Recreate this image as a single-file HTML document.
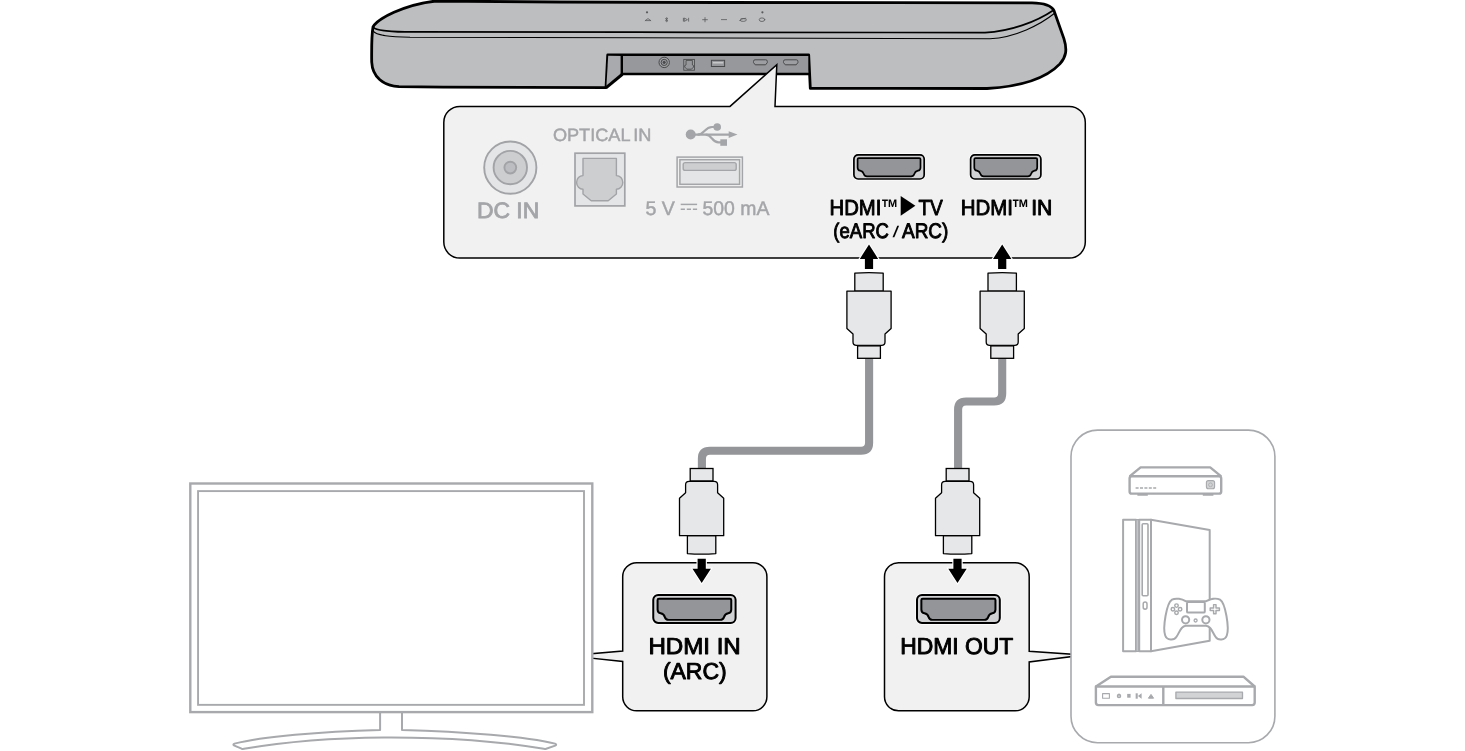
<!DOCTYPE html>
<html lang="en">
<head>
<meta charset="utf-8">
<title>HDMI connection diagram</title>
<style>
html,body{margin:0;padding:0;background:#fff;}
body{width:1465px;height:751px;overflow:hidden;position:relative;font-family:"Liberation Sans",sans-serif;}
svg{position:absolute;left:0;top:0;display:block;will-change:transform;}
text{font-family:"Liberation Sans",sans-serif;text-rendering:geometricPrecision;}
.lb{font-weight:normal;fill:#000;stroke:#000;stroke-width:0.95px;stroke-linejoin:round;}
.nb{font-weight:bold;fill:#000;}
.gy{fill:#a4a5a8;stroke:#a4a5a8;stroke-width:0.45px;}
</style>
</head>
<body>
<svg width="1465" height="751" viewBox="0 0 1465 751">
<defs>
  <!-- HDMI port, 70.3 x 24.2 (stroke centre box) -->
  <g id="hdmi">
    <rect x="0" y="0" width="70.3" height="24.2" rx="4.2" ry="4.2" fill="none" stroke="#fff" stroke-width="3"/>
    <rect x="0" y="0" width="70.3" height="24.2" rx="4.2" ry="4.2" fill="#d0d1d3" stroke="#000" stroke-width="1.7"/>
    <path d="M4.9,3.3 H65.4 Q66.6,3.3 66.6,4.5 V12.6 Q66.6,15.4 64,15.9 Q61.2,16.5 60.4,19.2 Q59.7,21.6 57.2,21.6 H13.1 Q10.6,21.6 9.9,19.2 Q9.1,16.5 6.3,15.9 Q3.7,15.4 3.7,12.6 V4.5 Q3.7,3.3 4.9,3.3 Z" fill="#939598" stroke="#000" stroke-width="1.7" stroke-linejoin="round"/>
  </g>
  <!-- HDMI plug pointing up, centred on x=0, top at y=0, height 85.7 -->
  <g id="plug">
    <path d="M-14.2,0.6 Q0,-0.6 14.2,0.6 V18.5 H-14.2 Z" fill="#e6e7e8" stroke="#000" stroke-width="1.3" stroke-linejoin="round"/>
    <path d="M-22.1,18.5 H22.1 V55.9 L16,61.5 V69.5 Q16,72.8 12.5,72.8 H-12.5 Q-16,72.8 -16,69.5 V61.5 L-22.1,55.9 Z" fill="#e6e7e8" stroke="#000" stroke-width="1.3" stroke-linejoin="round"/>
    <rect x="-11.4" y="73.3" width="22.8" height="12.4" fill="#e6e7e8" stroke="#000" stroke-width="1.3"/>
  </g>
  <!-- arrow pointing up, tip at 0,0 -->
  <g id="arrow">
    <path d="M0,0 L9.2,14.3 H4.1 V24.3 H-4.1 V14.3 H-9.2 Z" fill="#000" stroke="#fff" stroke-width="2.2" stroke-linejoin="miter" paint-order="stroke"/>
  </g>
</defs>

<!-- ========== SOUND BAR ========== -->
<g id="soundbar">
  <path d="M436,1 L560,2 L720,2.5 L1032,2.8 C1046,3 1051.5,5.6 1054,10.6 L1063.9,38.6 C1067.5,50 1066,57 1059.9,63.9 C1047,77.5 1022,86.5 987,88.5 L810.3,88.4 L808.7,55 L607.7,55 L606,87.7 L443,87.1 L399,86.7 C383,85.5 372.4,77 371.7,62 C371.5,45 371.6,35 373,27 C377,19 404,4.5 436,1 Z" fill="#bdbec0" stroke="#000" stroke-width="2.8" stroke-linejoin="round"/>
  <!-- top surface edge -->
  <path d="M373.3,27.2 C376,30.6 388,31.6 405,31.9 L700,32.3 L985,32.6 C1010,31.5 1036,22 1053.4,10.2" fill="none" stroke="#000" stroke-width="1.7"/>
  <path d="M373.2,31.2 C377,35.8 390,36.8 410,37.3 L720,38 L990,38.7 C1015,37.5 1040,25 1054.9,13" fill="none" stroke="#000" stroke-width="1.1"/>
  <!-- notch -->
  <path d="M608.2,55.8 L622,56 L622,73.6 L606.4,86.6 Z" fill="#a9aaad"/>
  <rect x="622" y="56" width="186.3" height="18" fill="#97989b"/>
  <path d="M621.8,55 V74 M621,74 H809.6" fill="none" stroke="#000" stroke-width="2.4"/>
  <path d="M622.4,74.2 L606.2,87.6" fill="none" stroke="#000" stroke-width="3.1"/>
  <!-- ports on the bar -->
  <g fill="none" stroke="#48494b" stroke-width="1">
    <circle cx="664.2" cy="62.4" r="5.2" fill="#a0a1a4"/>
    <circle cx="664.2" cy="62.4" r="3.1" fill="#97989b"/>
    <circle cx="664.2" cy="62.4" r="1.1" fill="#48494b"/>
    <rect x="683.8" y="59.4" width="10.6" height="10.8" fill="#a3a4a7" stroke-width="0.9"/>
    <path d="M686,60.4 H692.4 V65 L693.6,65.6 V67 L691.5,69.2 H686.8 L684.7,67 V65.6 L686,65 Z" fill="#97989b" stroke-width="0.9"/>
    <rect x="711.4" y="60.3" width="13.2" height="6.2" fill="#97989b"/>
    <path d="M712.8,62.8 H723.2" stroke="#d1d3d4" stroke-width="1.2"/>
    <path d="M755.1,59.8 H765.7 Q767.3,59.8 767.3,61.4 V62.6 L765.6,64.8 H755.2 L753.5,62.6 V61.4 Q753.5,59.8 755.1,59.8 Z" fill="#9d9ea1"/>
    <path d="M785.1,59.8 H796.3 Q797.9,59.8 797.9,61.4 V62.6 L796.2,64.8 H785.2 L783.5,62.6 V61.4 Q783.5,59.8 785.1,59.8 Z" fill="#9d9ea1"/>
  </g>
  <!-- top buttons -->
  <g fill="none" stroke="#58595b" stroke-width="0.8" stroke-linecap="round">
    <circle cx="647" cy="12.3" r="1.1" fill="#58595b" stroke="none"/>
    <circle cx="762.4" cy="12.3" r="1.1" fill="#58595b" stroke="none"/>
    <path d="M645.2,20.6 L648,18.6 L650.8,20.6 M645.6,20.6 H650.4"/>
    <path d="M665.4,18.6 L667.8,20.8 L666.6,21.8 V17.6 L667.8,18.6 L665.4,20.8"/>
    <path d="M683.4,18.2 V21.2 M688.6,18.2 V21.2 M684.6,18.2 L687.4,19.7 L684.6,21.2 Z"/>
    <path d="M702.6,19.7 H707.4 M705,17.6 V21.8"/>
    <path d="M721.4,19.6 H726.6"/>
    <path d="M740,20.4 Q740,18.6 743.2,18.6 Q746.4,18.6 746.4,19.8 Q746.4,21.4 743.2,21.4 Q740,21.4 740,20.4 Z M741,18.9 L745.8,18.3"/>
    <ellipse cx="762" cy="19.7" rx="2.8" ry="1.8"/>
  </g>
</g>

<!-- ========== CALLOUT PANEL ========== -->
<g id="callout">
  <path d="M459.8,106.4 H730 L776.8,64.8 L775,106.4 H1069.3 A16,16 0 0 1 1085.3,122.4 V242.1 A16,16 0 0 1 1069.3,258.1 H459.8 A16,16 0 0 1 443.8,242.1 V122.4 A16,16 0 0 1 459.8,106.4 Z" fill="#f1f1f1" stroke="#000" stroke-width="1.5" stroke-linejoin="miter"/>
  <!-- DC IN -->
  <g stroke="#a2a3a6" stroke-width="1.9">
    <circle cx="510.3" cy="167.6" r="26.1" fill="#e4e5e6"/>
    <circle cx="510.3" cy="167.6" r="16.7" fill="#cdced0"/>
    <circle cx="510.3" cy="167.6" r="5.9" fill="#bcbdc0"/>
  </g>
  <text class="gy" style="stroke-width:0.8px" x="476.9" y="218.2" font-size="22.2" textLength="62.4" lengthAdjust="spacingAndGlyphs">DC IN</text>
  <!-- OPTICAL IN -->
  <text class="gy" x="552.9" y="141" font-size="17.8" textLength="77.6" lengthAdjust="spacingAndGlyphs">OPTICAL</text>
  <text class="gy" x="633.2" y="141" font-size="17.8" textLength="18.2" lengthAdjust="spacingAndGlyphs">IN</text>
  <rect x="575" y="153.2" width="49.8" height="52.7" fill="#e4e5e6" stroke="#a2a3a6" stroke-width="1.7"/>
  <path d="M583,158.4 H616.4 V175.6 A6.4,6.8 0 0 1 616.4,189.2 V194 L608.2,200.8 H591.2 L583,194 V189.2 A6.4,6.8 0 0 1 583,175.6 Z" fill="#cdced0" stroke="#a2a3a6" stroke-width="1.4" stroke-linejoin="round"/>
  <!-- USB icon -->
  <g fill="#a4a5a8" stroke="none">
    <circle cx="690.7" cy="134.5" r="5"/>
    <circle cx="717.2" cy="127" r="3.8"/>
    <rect x="720.3" y="139.3" width="6.7" height="6.5"/>
    <path d="M728.7,131.3 L737.5,134.6 L728.7,138.1 Z"/>
  </g>
  <g fill="none" stroke="#a4a5a8" stroke-width="2.1">
    <path d="M690,134.6 H730"/>
    <path d="M697.6,134.6 C704.5,134.6 704.5,127 712,127 H716"/>
    <path d="M705.6,134.6 C712,134.6 712,142.4 718.5,142.4 H722"/>
  </g>
  <!-- USB port -->
  <rect x="677.1" y="157.1" width="65.3" height="29.9" fill="#f1f1f1" stroke="#a4a5a8" stroke-width="1.5"/>
  <rect x="679.9" y="159.7" width="59.7" height="24.6" fill="#e4e5e6" stroke="#a4a5a8" stroke-width="1.5"/>
  <rect x="683.2" y="162.6" width="53" height="7.8" rx="2" fill="#cdced0" stroke="#a4a5a8" stroke-width="1.4"/>
  <!-- 5 V === 500 mA -->
  <text class="gy" x="645.4" y="214.7" font-size="19.8" textLength="29.4" lengthAdjust="spacingAndGlyphs">5 V</text>
  <path d="M680.7,204.4 H697.1" stroke="#a4a5a8" stroke-width="1.5" fill="none"/>
  <path d="M680.7,209.2 H697.1" stroke="#a4a5a8" stroke-width="1.5" stroke-dasharray="4.2,1.9" fill="none"/>
  <text class="gy" x="702.5" y="214.7" font-size="19.8" textLength="66.9" lengthAdjust="spacingAndGlyphs">500 mA</text>
  <!-- HDMI ports -->
  <use href="#hdmi" x="853.9" y="154.8"/>
  <use href="#hdmi" x="970.6" y="154.8"/>
  <text class="lb" x="829.6" y="214.75" font-size="21.7" textLength="51.8" lengthAdjust="spacingAndGlyphs">HDMI</text>
  <text class="nb" x="880.9" y="215.7" font-size="24" textLength="17.6" lengthAdjust="spacingAndGlyphs">™</text>
  <text class="nb" transform="translate(901.1,212.2) scale(0.89,1.19)" x="0" y="0" font-size="20" font-family="DejaVu Sans, sans-serif">▶</text>
  <text class="lb" x="918.4" y="214.75" font-size="21.7" textLength="24.4" lengthAdjust="spacingAndGlyphs">TV</text>
  <text class="lb" x="833.3" y="237.6" font-size="21.15" textLength="55.6" lengthAdjust="spacingAndGlyphs">(eARC</text>
  <text x="892.6" y="236.6" font-size="15.5" fill="#000" textLength="6.6" lengthAdjust="spacingAndGlyphs">/</text>
  <text class="lb" x="902" y="237.6" font-size="21.15" textLength="46.4" lengthAdjust="spacingAndGlyphs">ARC)</text>
  <text class="lb" x="960.8" y="214.75" font-size="21.7" textLength="52.2" lengthAdjust="spacingAndGlyphs">HDMI</text>
  <text class="nb" x="1011.7" y="215.7" font-size="24" textLength="17.6" lengthAdjust="spacingAndGlyphs">™</text>
  <text class="lb" x="1031.2" y="214.75" font-size="21.7" textLength="21.2" lengthAdjust="spacingAndGlyphs">IN</text>
</g>

<!-- ========== CABLES ========== -->
<g fill="none" stroke="#939598" stroke-width="8.1" stroke-linejoin="round">
  <path d="M869.1,356 V442.8 Q869.1,450.8 861.1,450.8 H709.9 Q701.9,450.8 701.9,458.8 V470"/>
  <path d="M1002.2,356 V393.5 Q1002.2,401.5 994.2,401.5 H966.1 Q958.1,401.5 958.1,409.5 V470"/>
</g>

<!-- ========== BOTTOM BOXES ========== -->
<g id="boxes">
  <path d="M636.7,562.7 H752.9 A14,14 0 0 1 766.9,576.7 V696.8 A14,14 0 0 1 752.9,710.8 H636.7 A14,14 0 0 1 622.7,696.8 V661.5 L591.5,658.2 V653.7 L622.7,651.1 V576.7 A14,14 0 0 1 636.7,562.7 Z" fill="#f1f1f1" stroke="#000" stroke-width="1.5"/>
  <path d="M898.5,562.7 H1015.2 A14,14 0 0 1 1029.2,576.7 V651.2 L1072,654.2 V656.6 L1029.2,662 V696.8 A14,14 0 0 1 1015.2,710.8 H898.5 A14,14 0 0 1 884.5,696.8 V576.7 A14,14 0 0 1 898.5,562.7 Z" fill="#f1f1f1" stroke="#000" stroke-width="1.5"/>
  <use href="#hdmi" transform="translate(653.25,594.9) scale(1.1714,1.157)"/>
  <use href="#hdmi" transform="translate(917,594.9) scale(1.178,1.157)"/>
  <text class="lb" x="648.4" y="653.9" font-size="23.1" textLength="92.4" lengthAdjust="spacingAndGlyphs">HDMI IN</text>
  <text class="lb" x="662.9" y="678.6" font-size="23.1" textLength="63.8" lengthAdjust="spacingAndGlyphs">(ARC)</text>
  <text class="lb" x="900.3" y="653.9" font-size="23.1" textLength="113" lengthAdjust="spacingAndGlyphs">HDMI OUT</text>
</g>

<!-- ========== TV ========== -->
<g id="tv" fill="#fff" stroke="#a7a9ac" stroke-width="2">
  <path d="M380.1,712.6 V729.9 C320,731.5 262,736.5 234.5,743.6 Q232.4,744.6 234.4,745.6 L241.6,748.7 Q242.7,749.1 244,748.8 C290,741 340,737.5 390.8,737.5 C442,737.5 497,741 543.8,748.8 Q545,749.1 546.2,748.7 L555.2,745.6 Q557.2,744.6 555,743.6 C528,736.5 462,731.5 402,729.9 V712.6" stroke-linejoin="round"/>
  <rect x="190.3" y="483.5" width="402" height="228.6" stroke-width="2.4"/>
  <rect x="198.05" y="491.1" width="385.95" height="213.75" stroke-width="1.9"/>
</g>

<!-- ========== PLUGS + ARROWS ========== -->
<use href="#plug" transform="translate(869,272.6)"/>
<use href="#plug" transform="translate(1002.2,272.6)"/>
<use href="#plug" transform="translate(701.6,554.2) scale(1,-1)"/>
<use href="#plug" transform="translate(957.6,554.2) scale(1,-1)"/>
<use href="#arrow" transform="translate(869,244.6)"/>
<use href="#arrow" transform="translate(1002.2,244.6)"/>
<use href="#arrow" transform="translate(701.7,583) scale(1,-1)"/>
<use href="#arrow" transform="translate(957.5,583) scale(1,-1)"/>

<!-- ========== SOURCE DEVICES ========== -->
<g id="devices" fill="none" stroke="#a7a9ac">
  <rect x="1071" y="430.1" width="203.9" height="312.6" rx="26.5" ry="26.5" fill="#fff" stroke-width="1.6"/>
  <!-- set-top box -->
  <g stroke-width="2.4" stroke-linejoin="round">
    <path d="M1129.6,476.4 L1140.6,467.4 H1210.2 L1221.2,476.4"/>
    <rect x="1129.6" y="476.3" width="91.6" height="17.3" rx="2.2"/>
    <path d="M1137.4,494.8 H1147.8 M1202.8,494.8 H1213.4" stroke-width="1.8"/>
    <path d="M1135.6,488 H1156.2" stroke-width="1.5" stroke-dasharray="3,1.4"/>
    <rect x="1206.4" y="480.6" width="8.2" height="8.2" rx="2" fill="#d1d3d4" stroke-width="1.1"/>
    <circle cx="1210.5" cy="484.8" r="1.9" stroke-width="0.8"/>
  </g>
  <!-- game console -->
  <g stroke-width="2" stroke-linejoin="round" fill="#fff">
    <path d="M1151,519.7 L1209.7,530.1 V640.7 L1151,651.3 Z"/>
    <rect x="1123.1" y="519.7" width="12.9" height="131.6"/>
    <rect x="1136" y="519.7" width="3.2" height="131.6" fill="#c4c5c7" stroke-width="1.2"/>
    <rect x="1139.2" y="519.7" width="11.8" height="131.6"/>
    <rect x="1142.2" y="523.8" width="5.8" height="72" rx="1" stroke-width="1.6"/>
    <rect x="1143.2" y="602" width="3.8" height="7.2" rx="1.9" stroke-width="1.5"/>
  </g>
  <!-- controller -->
  <g stroke-width="2" stroke-linejoin="round" fill="#fff">
    <path d="M1172,599.6 C1176,597.6 1182,599 1185.6,601.2 H1206.2 C1210,599 1216,597.6 1220,599.6 C1225.5,603 1229.5,628 1226.8,635.5 C1225,640.5 1218,640.8 1215.5,636.8 C1212,631.5 1211,626 1206,625.8 H1185.8 C1181,626 1180,631.5 1176.5,636.8 C1174,640.8 1167,640.5 1165.2,635.5 C1162.5,628 1166.5,603 1172,599.6 Z"/>
    <rect x="1187" y="602" width="17.8" height="10.6" rx="1.2"/>
    <circle cx="1185.6" cy="619.8" r="3.6"/>
    <circle cx="1205.9" cy="619.8" r="3.6"/>
    <circle cx="1195.6" cy="620.5" r="1.5" stroke-width="1.3"/>
    <g stroke-width="1.45">
      <circle cx="1176.5" cy="605.6" r="1.75"/>
      <circle cx="1176.5" cy="612.8" r="1.75"/>
      <circle cx="1172.9" cy="609.2" r="1.75"/>
      <circle cx="1180.1" cy="609.2" r="1.75"/>
      <path d="M1213.6,604.6 H1216 V608 H1219.4 V610.4 H1216 V613.8 H1213.6 V610.4 H1210.2 V608 H1213.6 Z"/>
    </g>
  </g>
  <!-- disc player -->
  <g stroke-width="2.4" stroke-linejoin="round">
    <path d="M1095.9,686.5 L1110.9,676.7 H1243.4 L1254.7,686.5"/>
    <path d="M1095.9,686.5 H1254.7 V702.6 Q1254.7,705.1 1252.2,705.1 H1098.4 Q1095.9,705.1 1095.9,702.6 Z"/>
    <path d="M1163.3,686.5 V705.1"/>
    <rect x="1175.9" y="692.2" width="66.6" height="6.3" fill="#d1d3d4" stroke-width="1.3"/>
    <rect x="1102.6" y="693.6" width="6.8" height="4.7" stroke-width="1.1"/>
    <circle cx="1119" cy="696.1" r="1.6" stroke-width="1.3" fill="#d1d3d4"/>
    <path d="M1119,693.6 V695.4" stroke-width="0.9"/>
    <rect x="1127.2" y="693.9" width="3.4" height="3.8" fill="#a7a9ac" stroke="none"/>
    <path d="M1136.7,693.3 V698.7" stroke-width="2.1"/>
    <path d="M1141.6,693.2 L1137.9,696 L1141.6,698.8 Z" fill="#a7a9ac" stroke="none"/>
    <path d="M1148.4,698.2 H1153.6 L1151,694.4 Z" fill="#a7a9ac" stroke="#a7a9ac" stroke-width="1"/>
  </g>
</g>
</svg>
</body>
</html>
